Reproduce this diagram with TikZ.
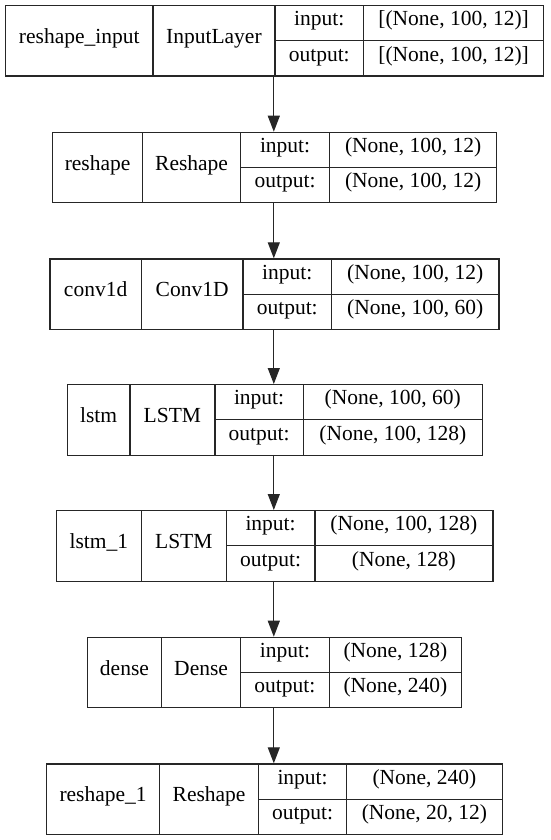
\documentclass[tikz,border=0pt]{standalone}
\usepackage{fontspec}
\setmainfont{Liberation Serif}
\usetikzlibrary{arrows.meta}
\tikzset{
  cell/.style={draw=black!85, line width=1.2pt, inner sep=0pt, anchor=north west,
    font=\fontsize{21.5}{26}\selectfont, text height=0.76em, text depth=0.22em},
  outer/.style={inner sep=0pt, anchor=north west},
  flow/.style={line width=1.2pt, draw=black!85, -{Triangle[length=16pt,width=12pt]}},
}
% name, x0, x1, x2, x3, x4, ytop, layer name, class ; values in \kin and \kout
\newcommand\kbox[9]{%
  \node[cell, minimum width={(#3-#2)*1pt}, minimum height=70.5pt] (#1-n) at (#2,#7) {#8};
  \node[cell, minimum width={(#4-#3)*1pt}, minimum height=70.5pt] (#1-c) at (#3,#7) {#9};
  \node[cell, minimum width={(#5-#4)*1pt}, minimum height=35.25pt] (#1-il) at (#4,#7) {input:};
  \node[cell, minimum width={(#5-#4)*1pt}, minimum height=35.25pt] (#1-ol) at (#4,#7+35.25) {output:};
  \node[cell, minimum width={(#6-#5)*1pt}, minimum height=35.25pt] (#1-iv) at (#5,#7) {\kin};
  \node[cell, minimum width={(#6-#5)*1pt}, minimum height=35.25pt] (#1-ov) at (#5,#7+35.25) {\kout};
  \node[outer, minimum width={(#6-#2)*1pt}, minimum height=70.5pt] (#1) at (#2,#7) {};
}
\begin{document}
\begin{tikzpicture}[x=1pt,y=-1pt]
\useasboundingbox[fill=white] (0,0) rectangle (550,840);

\def\kin{[(None, 100, 12)]}\def\kout{[(None, 100, 12)]}
\kbox{b1}{5}{152.3}{274.3}{363}{543}{5}{reshape\_input}{InputLayer}

\def\kin{(None, 100, 12)}\def\kout{(None, 100, 12)}
\kbox{b2}{52}{142}{240}{329}{496}{131.7}{reshape}{Reshape}

\def\kin{(None, 100, 12)}\def\kout{(None, 100, 60)}
\kbox{b3}{49.3}{140.7}{242.3}{331}{498.3}{258.3}{conv1d}{Conv1D}

\def\kin{(None, 100, 60)}\def\kout{(None, 100, 128)}
\kbox{b4}{66.7}{129.3}{214.3}{302.7}{481.7}{384}{lstm}{LSTM}

\def\kin{(None, 100, 128)}\def\kout{(None, 128)}
\kbox{b5}{55.7}{140.7}{225.7}{314.3}{492.3}{510}{lstm\_1}{LSTM}

\def\kin{(None, 128)}\def\kout{(None, 240)}
\kbox{b6}{86.7}{161}{240}{328.7}{461}{636.7}{dense}{Dense}

\def\kin{(None, 240)}\def\kout{(None, 20, 12)}
\kbox{b7}{46}{159}{258}{346}{501.7}{763.3}{reshape\_1}{Reshape}

\coordinate (ax) at (273.8,0);
\draw[flow] (b1.south -| ax) -- (b2.north -| ax);
\draw[flow] (b2.south -| ax) -- (b3.north -| ax);
\draw[flow] (b3.south -| ax) -- (b4.north -| ax);
\draw[flow] (b4.south -| ax) -- (b5.north -| ax);
\draw[flow] (b5.south -| ax) -- (b6.north -| ax);
\draw[flow] (b6.south -| ax) -- (b7.north -| ax);
\end{tikzpicture}
\end{document}
